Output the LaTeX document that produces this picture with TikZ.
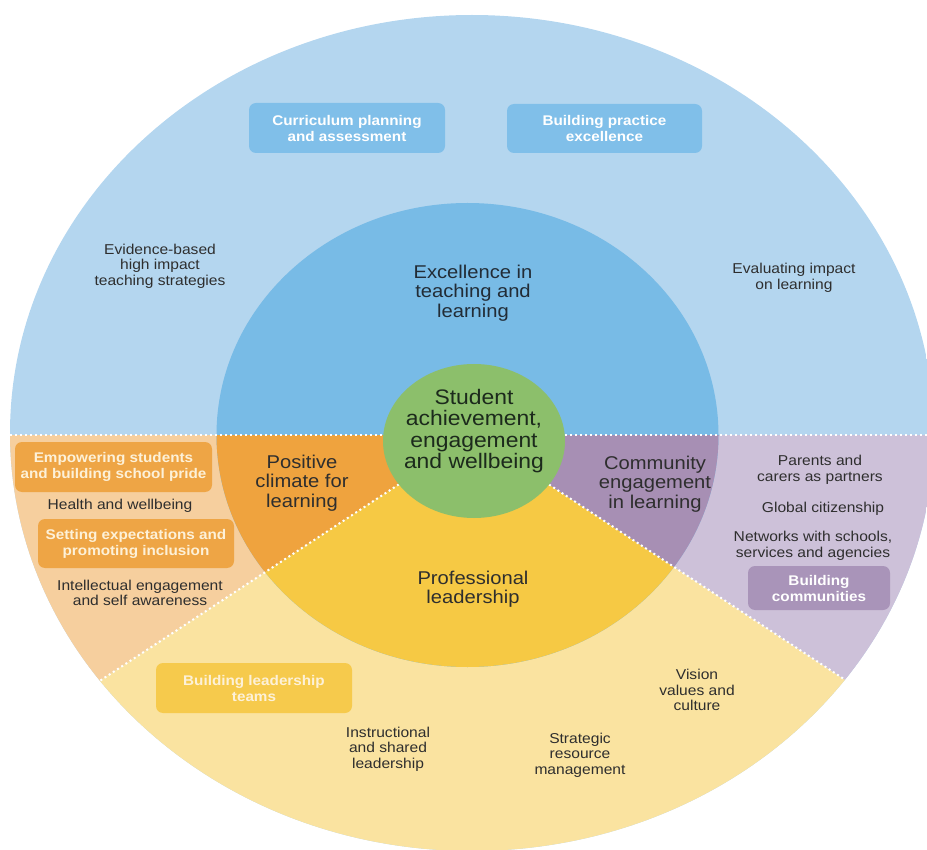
\documentclass[tikz,border=0pt]{standalone}
\usepackage{fontspec}
\setmainfont{Liberation Sans}[FakeStretch=1.09]
\definecolor{oblue}{HTML}{B4D6EF}
\definecolor{iblue}{HTML}{78BBE6}
\definecolor{bbox}{HTML}{80BFE9}
\definecolor{ogreen}{HTML}{8CBF6B}
\definecolor{oorange}{HTML}{F6CF9E}
\definecolor{iorange}{HTML}{EFA33E}
\definecolor{borange}{HTML}{EEA545}
\definecolor{oyellow}{HTML}{FAE3A0}
\definecolor{iyellow}{HTML}{F6C944}
\definecolor{byellow}{HTML}{F6CA4C}
\definecolor{opurple}{HTML}{CDC1D9}
\definecolor{ipurple}{HTML}{A78FB4}
\definecolor{bpurple}{HTML}{A994B9}
\definecolor{txt}{HTML}{2E2E2E}
\definecolor{gtxt}{HTML}{1C2A1C}
\definecolor{btxt}{HTML}{222C36}
\definecolor{creamtxt}{HTML}{FDF1D8}
\begin{document}
\begin{tikzpicture}[x=1pt,y=-1pt,
  lbl/.style={align=center, inner sep=0pt, text=txt, font=\fontsize{14.3}{15.5}\selectfont},
  mid/.style={align=center, inner sep=0pt, text=txt, font=\fontsize{18.5}{19.5}\selectfont},
  boxlbl/.style={align=center, inner sep=0pt, rounded corners=7pt, text=white,
    font=\bfseries\fontsize{14}{16}\selectfont},
  sep/.style={white, line width=2pt, dash pattern=on 2pt off 3pt}]
\useasboundingbox (0,0) rectangle (927,850);
% outer ring
\begin{scope}
  \clip (472,433) ellipse [x radius=462pt, y radius=418pt];
  \fill[oblue] (0,0) rectangle (927,850);
  \fill[oorange] (474,435) -- (-10,435) -- (-10,753) -- cycle;
  \fill[oyellow] (474,435) -- (-10,753) -- (-10,900) -- (950,900) -- (950,749) -- cycle;
  \fill[opurple] (474,435) -- (950,749) -- (950,435) -- cycle;
\end{scope}
% inner disc
\begin{scope}
  \clip (467.5,435) ellipse [x radius=251pt, y radius=232pt];
  \fill[iblue] (0,0) rectangle (927,850);
  \fill[iorange] (474,435) -- (-10,435) -- (-10,753) -- cycle;
  \fill[iyellow] (474,435) -- (-10,753) -- (-10,900) -- (950,900) -- (950,749) -- cycle;
  \fill[ipurple] (474,435) -- (950,749) -- (950,435) -- cycle;
\end{scope}
% dotted separators
\begin{scope}
  \clip (472,433) ellipse [x radius=462pt, y radius=418pt];
  \draw[sep] (0,435) -- (927,435);
  \draw[sep] (474,435) -- (-10,753);
  \draw[sep] (474,435) -- (950,749);
\end{scope}
% centre
\fill[ogreen] (474,441) ellipse [x radius=91pt, y radius=77pt];
\node[align=center, inner sep=0pt, text=gtxt, font=\fontsize{21}{21.5}\selectfont] (core) at (474,431)
  {Student\\achievement,\\engagement\\and wellbeing};

% headings
\node[mid, text=btxt] (excel) at (473,293) {Excellence in\\teaching and\\learning};
\node[mid] (climate) at (302,483) {Positive\\climate for\\learning};
\node[mid] (comm) at (655,484) {Community\\engagement\\in learning};
\node[mid] (prof) at (473,589) {Professional\\leadership};

% blue boxes & labels
\node[boxlbl, fill=bbox, minimum width=196pt, minimum height=50pt] (curr) at (347,128)
  {Curriculum planning\\and assessment};
\node[boxlbl, fill=bbox, minimum width=195pt, minimum height=49pt] (bpe) at (604.5,128.5)
  {Building practice\\excellence};
\node[lbl] (evid) at (160,266) {Evidence-based\\high impact\\teaching strategies};
\node[lbl] (eval) at (794,278) {Evaluating impact\\on learning};

% orange
\node[boxlbl, fill=borange, text=creamtxt, minimum width=197pt, minimum height=50pt] (emp) at (113.5,467)
  {Empowering students\\and building school pride};
\node[lbl] (health) at (120,506) {Health and wellbeing};
\node[boxlbl, fill=borange, text=creamtxt, minimum width=196pt, minimum height=49pt] (set) at (136,543.5)
  {Setting expectations and\\promoting inclusion};
\node[lbl] (intel) at (140,593) {Intellectual engagement\\and self awareness};

% purple
\node[lbl] (parents) at (820,470) {Parents and\\carers as partners};
\node[lbl] (global) at (823,509) {Global citizenship};
\node[lbl] (netw) at (813,546) {Networks with schools,\\services and agencies};
\node[boxlbl, fill=bpurple, minimum width=142pt, minimum height=44pt] (bcomm) at (819,588)
  {Building\\communities};

% yellow
\node[boxlbl, fill=byellow, text=creamtxt, minimum width=196pt, minimum height=50pt] (blt) at (254,688)
  {Building leadership\\teams};
\node[lbl] (vision) at (697,690) {Vision\\values and\\culture};
\node[lbl] (instr) at (388,749) {Instructional\\and shared\\leadership};
\node[lbl] (strat) at (580,755) {Strategic\\resource\\management};
\end{tikzpicture}
\end{document}
